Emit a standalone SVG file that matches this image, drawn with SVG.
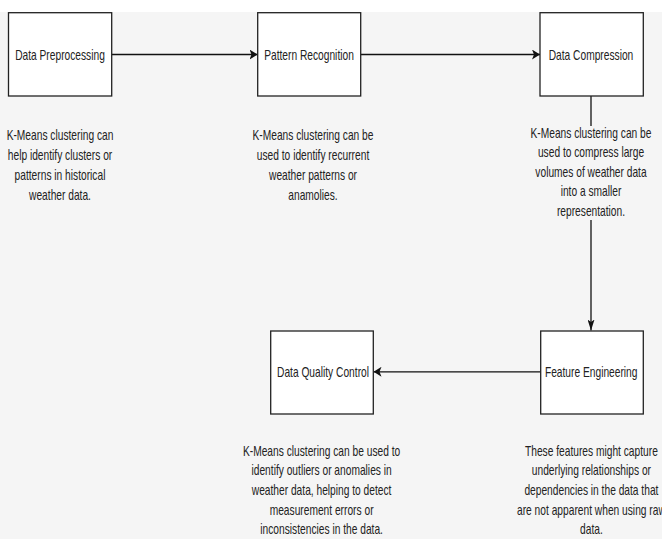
<svg xmlns="http://www.w3.org/2000/svg" width="662" height="539" viewBox="0 0 662 539">
<defs>
<style>
.box{fill:#ffffff;stroke:#222222;stroke-width:1.3}
.lbl{font-family:"Liberation Sans",Arial,sans-serif;font-size:14px;fill:#222222;text-anchor:middle}
.edge{fill:none;stroke:#111111;stroke-width:1.3}
</style>
<marker id="arrowH" markerUnits="userSpaceOnUse" markerWidth="8" markerHeight="10" viewBox="0 0 8 10" refX="8" refY="5" orient="auto">
<path d="M0,0 L8,5 L0,10 L2,5 z" fill="#111111"/>
</marker>
<marker id="arrowV" markerUnits="userSpaceOnUse" markerWidth="11" markerHeight="7" viewBox="0 0 11 7" refX="11" refY="3.5" orient="auto">
<path d="M0,0 L11,3.5 L0,7 L2.5,3.5 z" fill="#111111"/>
</marker>
</defs>
<rect x="0" y="0" width="662" height="539" fill="#ffffff"/>
<rect x="0" y="12" width="662" height="527" fill="#f5f5f5"/>

<g id="connectors">
<line class="edge" x1="112" y1="54.5" x2="257.5" y2="54.5" marker-end="url(#arrowH)"/>
<line class="edge" x1="360.5" y1="54.5" x2="540" y2="54.5" marker-end="url(#arrowH)"/>
<line class="edge" x1="591" y1="96" x2="591" y2="330.5" marker-end="url(#arrowV)"/>
<line class="edge" x1="540.5" y1="371.8" x2="373.5" y2="371.8" marker-end="url(#arrowH)"/>
<g id="label-compression">
<rect x="584" y="126" width="14" height="94" fill="#f5f5f5"/>
<g transform="translate(591,0) scale(0.73,1)">
<text class="lbl" x="0" y="138">K-Means clustering can be</text>
<text class="lbl" x="0" y="157.5">used to compress large</text>
<text class="lbl" x="0" y="177">volumes of weather data</text>
<text class="lbl" x="0" y="196.5">into a smaller</text>
<text class="lbl" x="0" y="216">representation.</text>
</g>
</g>
</g>

<g id="node-preprocessing">
<rect class="box" x="8.5" y="12.7" width="103.2" height="83.3"/>
<g transform="translate(60,0) scale(0.73,1)"><text class="lbl" x="0" y="60">Data Preprocessing</text></g>
</g>
<g id="note-preprocessing" transform="translate(60,0) scale(0.73,1)">
<text class="lbl" x="0" y="140.5">K-Means clustering can</text>
<text class="lbl" x="0" y="160.2">help identify clusters or</text>
<text class="lbl" x="0" y="179.9">patterns in historical</text>
<text class="lbl" x="0" y="199.6">weather data.</text>
</g>

<g id="node-pattern">
<rect class="box" x="257.7" y="12.7" width="103" height="83.3"/>
<g transform="translate(309,0) scale(0.73,1)"><text class="lbl" x="0" y="60">Pattern Recognition</text></g>
</g>
<g id="note-pattern" transform="translate(313,0) scale(0.73,1)">
<text class="lbl" x="0" y="140.5">K-Means clustering can be</text>
<text class="lbl" x="0" y="160.2">used to identify recurrent</text>
<text class="lbl" x="0" y="179.9">weather patterns or</text>
<text class="lbl" x="0" y="199.6">anamolies.</text>
</g>

<g id="node-compression">
<rect class="box" x="540" y="12.7" width="103.3" height="83.3"/>
<g transform="translate(591,0) scale(0.73,1)"><text class="lbl" x="0" y="60">Data Compression</text></g>
</g>

<g id="node-feature">
<rect class="box" x="540.7" y="331" width="102.6" height="83"/>
<g transform="translate(591.2,0) scale(0.73,1)"><text class="lbl" x="0" y="377">Feature Engineering</text></g>
</g>
<g id="note-feature" transform="translate(591.4,0) scale(0.73,1)">
<text class="lbl" x="0" y="455.6">These features might capture</text>
<text class="lbl" x="0" y="475.3">underlying relationships or</text>
<text class="lbl" x="0" y="495">dependencies in the data that</text>
<text class="lbl" x="0" y="514.8">are not apparent when using raw</text>
<text class="lbl" x="0" y="534.5">data.</text>
</g>

<g id="node-quality">
<rect class="box" x="270.7" y="331" width="102.6" height="83"/>
<g transform="translate(323,0) scale(0.73,1)"><text class="lbl" x="0" y="377">Data Quality Control</text></g>
</g>
<g id="note-quality" transform="translate(321.6,0) scale(0.73,1)">
<text class="lbl" x="0" y="455.6">K-Means clustering can be used to</text>
<text class="lbl" x="0" y="475.3">identify outliers or anomalies in</text>
<text class="lbl" x="0" y="495">weather data, helping to detect</text>
<text class="lbl" x="0" y="514.8">measurement errors or</text>
<text class="lbl" x="0" y="534.5">inconsistencies in the data.</text>
</g>
</svg>
